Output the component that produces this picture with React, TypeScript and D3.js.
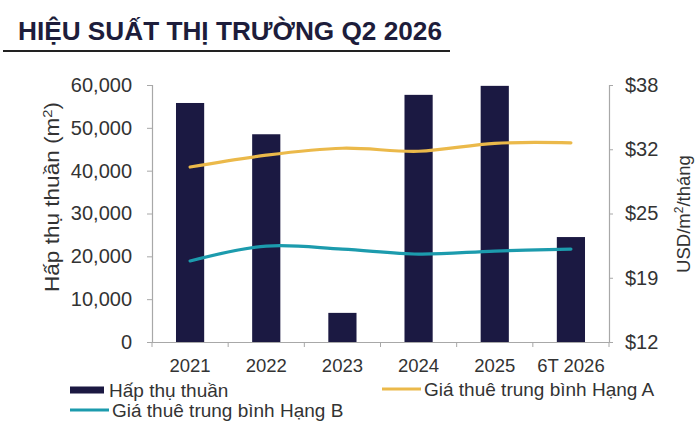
import * as d3 from "d3";
import React, { useEffect, useRef } from "react";

const years = ["2021", "2022", "2023", "2024", "2025", "6T 2026"];
const absorption = [55800, 48500, 6800, 57700, 59800, 24500];
const rentGradeA = [29.7, 30.9, 31.6, 31.3, 32.1, 32.15];
const rentGradeB = [20.2, 21.7, 21.4, 20.9, 21.2, 21.4];
const leftTicks = [0, 10000, 20000, 30000, 40000, 50000, 60000];
const rightTicks = [12, 18.5, 25, 31.5, 38];

const NAVY = "#1b1942";
const GOLD = "#ebb94a";
const TEAL = "#1c9bad";
const AXIS = "#a8a8a8";
const TEXT = "#333333";
const FONT = "'Liberation Sans', Arial, sans-serif";

const App: React.FC = () => {
    const svgRef = useRef<SVGSVGElement>(null);

    useEffect(() => {
        const svg = d3.select(svgRef.current);
        svg.selectAll("*").remove();

        const left = 152, right = 609, top = 85, bottom = 342;

        const x = d3.scaleBand<string>().domain(years).range([left, right]).padding(0);
        const yBar = d3.scaleLinear().domain([0, 60000]).range([bottom, top]);
        const yRent = d3.scaleLinear().domain([12, 38]).range([bottom, top]);
        const barW = x.bandwidth() * 0.37;
        const cx = (d: string) => (x(d) as number) + x.bandwidth() / 2;

        // title
        svg.append("text")
            .attr("x", 18).attr("y", 40)
            .attr("font-family", FONT).attr("font-weight", "bold")
            .attr("font-size", 25).attr("fill", "#1d1d3b")
            .attr("textLength", 424).attr("lengthAdjust", "spacingAndGlyphs")
            .text("HIỆU SUẤT THỊ TRƯỜNG Q2 2026");
        svg.append("line")
            .attr("x1", 3).attr("x2", 450).attr("y1", 51).attr("y2", 51)
            .attr("stroke", "#222").attr("stroke-width", 2);

        // bars
        svg.selectAll("rect.bar")
            .data(absorption)
            .enter()
            .append("rect")
            .attr("class", "bar")
            .attr("x", (_, i) => cx(years[i]) - barW / 2)
            .attr("y", d => yBar(d))
            .attr("width", barW)
            .attr("height", d => bottom - yBar(d))
            .attr("fill", NAVY);

        // axes
        const leftAxis = svg.append("g").attr("transform", `translate(${left},0)`)
            .call(d3.axisLeft(yBar).tickValues(leftTicks).tickFormat(d3.format(",") as any).tickSize(5).tickPadding(15));
        const rightAxis = svg.append("g").attr("transform", `translate(${right},0)`)
            .call(d3.axisRight(yRent).tickValues(rightTicks).tickFormat((d: any) => "$" + Math.round(d)).tickSize(4).tickPadding(12));
        const xAxis = svg.append("g").attr("transform", `translate(0,${bottom})`)
            .call(d3.axisBottom(x).tickSize(0).tickPadding(17));

        [leftAxis, rightAxis, xAxis].forEach(g => {
            g.select(".domain").attr("stroke", AXIS).attr("stroke-width", 1.2);
            g.selectAll(".tick line").attr("stroke", AXIS);
            g.selectAll("text").attr("fill", TEXT).attr("font-family", FONT);
        });
        leftAxis.selectAll("text").attr("font-size", 20);
        rightAxis.selectAll("text").attr("font-size", 20);
        xAxis.selectAll("text").attr("font-size", 18.5);

        // category boundary ticks
        xAxis.selectAll("line.sep")
            .data(d3.range(years.length + 1))
            .enter()
            .append("line")
            .attr("class", "sep")
            .attr("x1", i => left + i * x.step()).attr("x2", i => left + i * x.step())
            .attr("y1", 0).attr("y2", 5)
            .attr("stroke", AXIS);

        // rent lines
        const line = d3.line<number>()
            .x((_, i) => cx(years[i]))
            .y(d => yRent(d))
            .curve(d3.curveCatmullRom.alpha(0.5));

        [[rentGradeA, GOLD], [rentGradeB, TEAL]].forEach(([vals, color]) => {
            svg.append("path")
                .datum(vals as number[])
                .attr("d", line)
                .attr("fill", "none")
                .attr("stroke", color as string)
                .attr("stroke-width", 3.2)
                .attr("stroke-linecap", "round");
        });

        // axis titles
        const yTitle = svg.append("text")
            .attr("transform", "translate(59,197) rotate(-90)")
            .attr("text-anchor", "middle")
            .attr("font-family", FONT).attr("font-size", 20).attr("fill", TEXT)
            .attr("textLength", 190).attr("lengthAdjust", "spacingAndGlyphs");
        yTitle.append("tspan").text("Hấp thụ thuần (m");
        yTitle.append("tspan").attr("font-size", 13).attr("dy", -7).text("2");
        yTitle.append("tspan").attr("dy", 7).text(")");

        const y2Title = svg.append("text")
            .attr("transform", "translate(690,214) rotate(-90)")
            .attr("text-anchor", "middle")
            .attr("font-family", FONT).attr("font-size", 18.5).attr("fill", TEXT);
        y2Title.append("tspan").text("USD/m");
        y2Title.append("tspan").attr("font-size", 12).attr("dy", -7).text("2");
        y2Title.append("tspan").attr("dy", 7).text("/tháng");

        // legend
        const legend = [
            { label: "Hấp thụ thuần", color: NAVY, kind: "bar", x: 70, y: 390 },
            { label: "Giá thuê trung bình Hạng A", color: GOLD, kind: "line", x: 382, y: 389 },
            { label: "Giá thuê trung bình Hạng B", color: TEAL, kind: "line", x: 70, y: 410 },
        ];
        const lg = svg.selectAll("g.legend")
            .data(legend)
            .enter()
            .append("g")
            .attr("class", "legend")
            .attr("transform", d => `translate(${d.x},${d.y})`);
        lg.append("rect")
            .attr("x", 0)
            .attr("y", d => d.kind === "bar" ? -3.5 : -1.5)
            .attr("width", d => d.kind === "bar" ? 34 : 39)
            .attr("height", d => d.kind === "bar" ? 7 : 3)
            .attr("fill", d => d.color);
        lg.append("text")
            .attr("x", d => d.kind === "bar" ? 39 : 42)
            .attr("y", 7)
            .attr("font-family", FONT).attr("font-size", 19).attr("fill", TEXT)
            .text(d => d.label);
    }, []);

    return (
        <svg ref={svgRef} width={700} height={422}
            style={{ position: "absolute", top: 0, left: 0, background: "#fff" }} />
    );
};

export default App;
